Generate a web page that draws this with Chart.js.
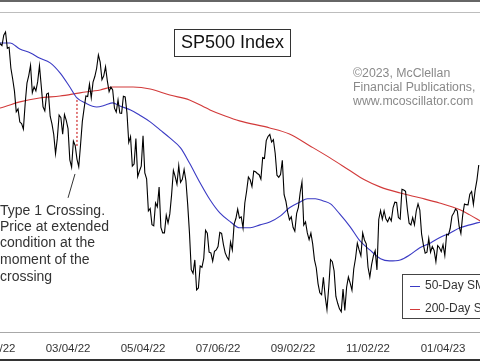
<!DOCTYPE html>
<html><head><meta charset="utf-8">
<script src="https://cdn.jsdelivr.net/npm/chart.js@4"></script>
<style>
html,body{margin:0;padding:0;background:#fff;overflow:hidden;width:480px;height:361px;}
#wrap{position:absolute;left:-60px;top:0;width:600px;height:361px;}
</style></head><body>
<div id="wrap"><canvas id="c"></canvas></div>
<script>
// ---- data (trading-day index from 01/03/22) ----
const tickIdx = [0, 42, 84, 126, 168, 210, 252];
const tickLabels = ["01/03/22","03/04/22","05/04/22","07/06/22","09/02/22","11/02/22","01/04/23"];

const priceStart = 0;
const price = [
4797,4794,4701,4696,4677,4670,4713,4726,4659,4663,
4577,4533,4483,4398,4410,4356,4350,4327,4432,4516,
4547,4589,4477,4501,4484,4522,4587,4504,4419,4402,
4471,4475,4380,4349,4305,4226,4289,4385,4374,4306,
4387,4363,4329,4201,4171,4278,4260,4204,4173,4262,
4358,4412,4463,4461,4512,4456,4520,4543,4576,4632,
4602,4530,4546,4583,4525,4481,4500,4488,4413,4397,
4447,4393,4392,4462,4459,4394,4272,4296,4175,4184,
4288,4132,4155,4175,4300,4147,4123,3991,4001,3935,
3930,4024,4008,4089,3924,3901,3901,3974,3941,3979,
4058,4158,4132,4101,4177,4109,4121,4161,4116,4018,
3901,3750,3735,3790,3667,3675,3765,3760,3796,3912,
3900,3822,3819,3785,3825,3831,3845,3903,3899,3854,
3819,3802,3790,3863,3831,3937,3960,3999,3962,3967,
3921,4024,4072,4130,4119,4091,4155,4152,4145,4140,
4122,4210,4207,4280,4297,4305,4274,4284,4228,4138,
4129,4141,4199,4058,4031,3986,3955,3967,3924,3908,
3980,4006,4067,4110,3933,3946,3901,3873,3900,3856,
3790,3758,3693,3655,3647,3719,3640,3586,3678,3791,
3783,3745,3640,3612,3589,3577,3670,3583,3678,3720,
3695,3666,3753,3797,3859,3831,3807,3901,3872,3856,
3760,3720,3771,3807,3828,3749,3956,3993,3957,3992,
3959,3947,3965,3950,4004,4027,4026,3964,3958,4080,
4077,4072,3999,3941,3934,3964,3934,3991,4020,3995,
3896,3852,3818,3822,3878,3822,3845,3829,3783,3849,
3840,3824,3853,3808,3895,3892,3919,3970,3983,3999,
3991,3929,3899,3973,4020,4017,4016,4060,4071,4018,
4077,4119,4180];

const sma50Day = [0,4,9.5,15,21,26,32,37.5,43,47,51.5,58,63,67,71,77,82,88,93.5,99,105,110,116,121.5,127,133,138,144,149.5,155,161,166,172,176,180.5,185,189,194,200,205.5,211,217,222,228,233.5,239,245,250,256,261.5,267,273];
const sma50Val = [4684,4681,4681,4656,4640,4619,4599,4558,4500,4455,4435,4418,4426,4435,4422,4406,4385,4357,4324,4291,4250,4188,4106,4037,3983,3946,3922,3922,3934,3946,3971,4004,4028,4041,4041,4032,4020,3980,3926,3868,3831,3795,3786,3790,3811,3840,3860,3881,3901,3922,3934,3946];

const sma200Day = [0,4,15,26,37.5,48.7,60,67,78.4,88,99,110,121.5,130,138,155,166,177.5,188.7,200,208,216.7,228,239,250,261.5,267,273];
const sma200Val = [4410,4414,4439,4455,4463,4476,4488,4500,4500,4492,4467,4447,4406,4381,4361,4332,4307,4258,4209,4156,4119,4090,4065,4045,4024,3996,3975,3950];

// annotation marks (in data units)
const crossDay = [47, 47];
const crossVal = [4447, 4250];
const pointerDay = [45.9, 42.0];
const pointerVal = [4143, 4045];

const titleText = "SP500 Index";
const creditLines = ["\u00A92023, McClellan", "Financial Publications,", "www.mcoscillator.com"];
const noteLines = ["Type 1 Crossing.", "Price at extended", "condition at the", "moment of the", "crossing"];
const legendLabels = ["50-Day SMA", "200-Day SMA"];

// ---- build ----
const zip = (xs, ys) => xs.map((x, i) => ({x, y: ys[i]}));
const priceData = price.map((v, i) => ({x: priceStart + i, y: v}));
const BLUE = '#3a3ac4', RED = '#d23a3a';
const FONT = '"Liberation Sans", Arial, sans-serif';
const OFF = 60;

const deco = {
  id: 'deco',
  afterDraw(chart) {
    const ctx = chart.ctx, a = chart.chartArea, W = chart.width;
    ctx.save();
    ctx.fillStyle = '#666'; ctx.fillRect(0, 0, W, 2);
    ctx.fillStyle = '#bdbdbd'; ctx.fillRect(0, a.top, W, 1);
    ctx.fillStyle = '#a8a8a8'; ctx.fillRect(0, a.bottom - 1, W, 1);
    ctx.fillStyle = '#333'; ctx.fillRect(0, 359, W, 2);

    // title box
    ctx.fillStyle = '#fff'; ctx.strokeStyle = '#333'; ctx.lineWidth = 1;
    ctx.fillRect(174.5 + OFF, 29.5, 116, 27);
    ctx.strokeRect(174.5 + OFF, 29.5, 116, 27);
    ctx.fillStyle = '#111'; ctx.font = '18px ' + FONT;
    ctx.textAlign = 'center'; ctx.textBaseline = 'middle';
    ctx.fillText(titleText, 232.5 + OFF, 43.5);

    // credits
    ctx.fillStyle = '#8a8a8a'; ctx.font = '12.3px ' + FONT; ctx.textAlign = 'left';
    creditLines.forEach((t, i) => ctx.fillText(t, 353 + OFF, 74 + i * 14));

    // note
    ctx.fillStyle = '#333'; ctx.font = '14px ' + FONT;
    const ny = [211, 227, 243.5, 260.5, 277];
    noteLines.forEach((t, i) => ctx.fillText(t, 0 + OFF, ny[i]));

    // legend
    ctx.fillStyle = '#fff'; ctx.strokeStyle = '#444';
    ctx.fillRect(402.5 + OFF, 274.5, 120, 44);
    ctx.strokeRect(402.5 + OFF, 274.5, 120, 44);
    const ly = [286, 309], lc = [BLUE, RED];
    ctx.font = '12px ' + FONT;
    legendLabels.forEach((t, i) => {
      ctx.strokeStyle = lc[i]; ctx.beginPath();
      ctx.moveTo(410 + OFF, ly[i] + 0.5); ctx.lineTo(420 + OFF, ly[i] + 0.5); ctx.stroke();
      ctx.fillStyle = '#333'; ctx.fillText(t, 425 + OFF, ly[i]);
    });
    ctx.restore();
  }
};

new Chart(document.getElementById('c'), {
  type: 'line',
  data: {
    datasets: [
      {data: priceData, borderColor: '#000', borderWidth: 1.1, pointRadius: 0, tension: 0},
      {data: zip(crossDay, crossVal), borderColor: RED, borderWidth: 1.3, borderDash: [2, 2], pointRadius: 0},
      {data: zip(pointerDay, pointerVal), borderColor: '#333', borderWidth: 1, pointRadius: 0},
      {data: zip(sma50Day, sma50Val), borderColor: BLUE, borderWidth: 1.1, pointRadius: 0, cubicInterpolationMode: 'monotone'},
      {data: zip(sma200Day, sma200Val), borderColor: RED, borderWidth: 1.1, pointRadius: 0, cubicInterpolationMode: 'monotone'}
    ]
  },
  options: {
    responsive: true, maintainAspectRatio: false, animation: false,
    layout: {padding: {top: 12, left: 0, right: 0, bottom: 0}},
    plugins: {legend: {display: false}, tooltip: {enabled: false}},
    scales: {
      x: {
        type: 'linear', min: -29.7, max: 306.3,
        afterBuildTicks(s) { s.ticks = tickIdx.map(v => ({value: v})); },
        afterFit(s) { s.height = 28; },
        grid: {display: false, drawTicks: false},
        border: {display: false},
        ticks: {
          autoSkip: false, maxRotation: 0, padding: 9, color: '#333',
          font: {family: FONT, size: 11.5},
          callback: (v) => { const k = tickIdx.indexOf(v); return k >= 0 ? tickLabels[k] : ''; }
        }
      },
      y: {type: 'linear', display: false, min: 3490, max: 4808}
    }
  },
  plugins: [deco]
});
</script></body></html>
